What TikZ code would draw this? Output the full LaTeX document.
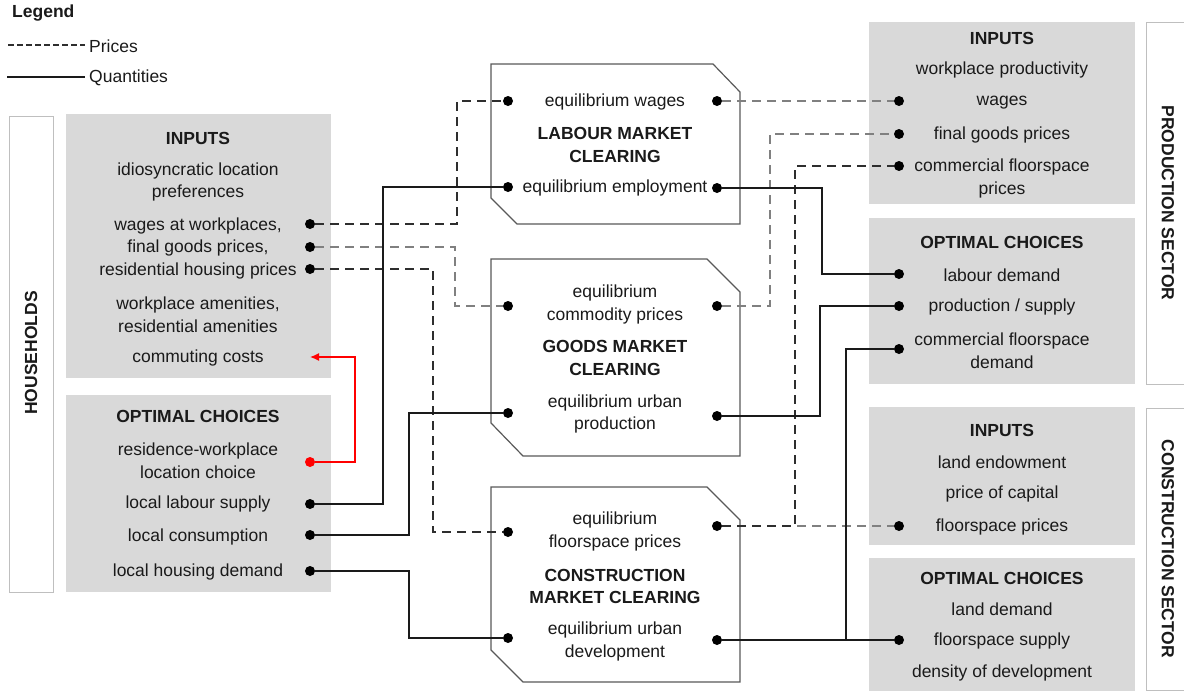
\documentclass[tikz,border=0pt]{standalone}
\usepackage{fontspec}
\setmainfont{Liberation Sans}
\usetikzlibrary{arrows.meta}

\definecolor{panelgray}{HTML}{D9D9D9}
\definecolor{framegray}{HTML}{BFBFBF}
\definecolor{inkdark}{HTML}{1A1A1A}
\definecolor{pricegray}{HTML}{808080}
\definecolor{pricedarkgray}{HTML}{2E2E2E}

\tikzset{
    panel/.style={fill=panelgray, draw=none},
    sidebox/.style={draw=framegray, line width=1pt, fill=white},
    market/.style={draw=black!65, line width=1.2pt, fill=white},
    txt/.style={inner sep=0pt, align=center, text=inkdark},
    head/.style={txt, font=\fontsize{17.5}{22.5}\selectfont\bfseries},
    dot/.style={circle, fill=black, inner sep=0pt, minimum size=10pt},
    reddot/.style={dot, fill=red},
    qty/.style={draw=inkdark, line width=1.6pt},
    price/.style={draw=pricegray, line width=1.6pt, dash pattern=on 9pt off 6pt},
    pricedark/.style={draw=pricedarkgray, line width=1.6pt, dash pattern=on 9pt off 6pt},
    commute/.style={draw=red, line width=1.3pt, -{Latex[length=9pt,width=8pt]}},
}

\begin{document}
\begin{tikzpicture}[x=1pt, y=-1pt, font=\fontsize{17.5}{22.5}\selectfont]
    \useasboundingbox (0,0) rectangle (1184,691);

    % legend
    \node[head, anchor=west] (legend) at (12,13) {Legend};
    \coordinate (pA) at (8,45);
    \coordinate (pB) at (85,45);
    \coordinate (qA) at (7,77);
    \coordinate (qB) at (85,77);
    \draw[pricedark, line width=1.2pt, dash pattern=on 6pt off 3pt] (pA) -- (pB);
    \draw[qty, line width=1.2pt] (qA) -- (qB);
    \node[txt, anchor=west] (legprice) at (89,46) {Prices};
    \node[txt, anchor=west] (legqty) at (89,78) {Quantities};

    % frames and panels
    \draw[sidebox] (9,116) rectangle (53,592);
    \draw[sidebox] (1146,22) rectangle (1195,384);
    \draw[sidebox] (1146,408) rectangle (1195,690);
    \node[head, rotate=90] (households) at (31,353) {HOUSEHOLDS};
    \node[head, rotate=-90] (prodsector) at (1168,203) {PRODUCTION SECTOR};
    \node[head, rotate=-90] (conssector) at (1168,549) {CONSTRUCTION SECTOR};

    \fill[panel] (66,114) rectangle (331,378);
    \fill[panel] (66,395) rectangle (331,592);
    \fill[panel] (869,22) rectangle (1135,204);
    \fill[panel] (869,218) rectangle (1135,384);
    \fill[panel] (869,407) rectangle (1135,545);
    \fill[panel] (869,558) rectangle (1135,695);

    % market clearing blocks
    \draw[market] (491,64) -- (713,64) -- (740,92) -- (740,224) -- (517,224) -- (491,198) -- cycle;
    \draw[market] (491,259) -- (707,259) -- (740,292) -- (740,456) -- (523,456) -- (491,423) -- cycle;
    \draw[market] (491,487) -- (707,487) -- (740,520) -- (740,682) -- (523,682) -- (491,650) -- cycle;

    % households
    \node[head] (hIn) at (198,138) {INPUTS};
    \node[txt] (hPref) at (198,182) {idiosyncratic location\\preferences};
    \node[txt] (hPrices) at (198,248) {wages at workplaces,\\final goods prices,\\residential housing prices};
    \node[txt] (hAmen) at (198,314.5) {workplace amenities,\\residential amenities};
    \node[txt] (hComm) at (198,358) {commuting costs};
    \node[head] (hOpt) at (198,416) {OPTIMAL CHOICES};
    \node[txt] (hLoc) at (198,460.5) {residence-workplace\\location choice};
    \node[txt] (hLab) at (198,504) {local labour supply};
    \node[txt] (hCon) at (198,537) {local consumption};
    \node[txt] (hHou) at (198,572) {local housing demand};

    % markets
    \node[txt] (lWages) at (615,102) {equilibrium wages};
    \node[head] (lTitle) at (615,145) {LABOUR MARKET\\CLEARING};
    \node[txt] (lEmp) at (615,188) {equilibrium employment};
    \node[txt] (gPrices) at (615,304.5) {equilibrium\\commodity prices};
    \node[head] (gTitle) at (615,358) {GOODS MARKET\\CLEARING};
    \node[txt] (gProd) at (615,414) {equilibrium urban\\production};
    \node[txt] (cPrices) at (615,531.5) {equilibrium\\floorspace prices};
    \node[head] (cTitle) at (615,586.5) {CONSTRUCTION\\MARKET CLEARING};
    \node[txt] (cDev) at (615,641.5) {equilibrium urban\\development};

    % production sector
    \node[head] (pIn) at (1002,38) {INPUTS};
    \node[txt] (pProd) at (1002,70) {workplace productivity};
    \node[txt] (pWag) at (1002,103) {wages};
    \node[txt] (pGds) at (1002,135) {final goods prices};
    \node[txt] (pFlr) at (1002,178.5) {commercial floorspace\\prices};
    \node[head] (pOpt) at (1002,242) {OPTIMAL CHOICES};
    \node[txt] (pLab) at (1002,275) {labour demand};
    \node[txt] (pSup) at (1002,307) {production / supply};
    \node[txt] (pDem) at (1002,350.5) {commercial floorspace\\demand};

    % construction sector
    \node[head] (kIn) at (1002,430) {INPUTS};
    \node[txt] (kLand) at (1002,462) {land endowment};
    \node[txt] (kCap) at (1002,494) {price of capital};
    \node[txt] (kFlr) at (1002,527) {floorspace prices};
    \node[head] (kOpt) at (1002,578) {OPTIMAL CHOICES};
    \node[txt] (kLandDem) at (1002,609) {land demand};
    \node[txt] (kSup) at (1002,641) {floorspace supply};
    \node[txt] (kDens) at (1002,673) {density of development};

    % connection points
    \node[dot] (hWage) at (310,224) {};
    \node[dot] (hGoods) at (310,247) {};
    \node[dot] (hHousing) at (310,269) {};
    \coordinate (hCommute) at (310,357);
    \node[reddot] (hLocation) at (310,462) {};
    \node[dot] (hLabour) at (310,504) {};
    \node[dot] (hCons) at (310,535) {};
    \node[dot] (hDemand) at (310,571) {};

    \node[dot] (lWageL) at (508,101) {};
    \node[dot] (lWageR) at (717,101) {};
    \node[dot] (lEmpL) at (508,187) {};
    \node[dot] (lEmpR) at (717,188) {};
    \node[dot] (gPriceL) at (508,306) {};
    \node[dot] (gPriceR) at (717,306) {};
    \node[dot] (gProdL) at (508,413) {};
    \node[dot] (gProdR) at (717,416) {};
    \node[dot] (cPriceL) at (508,532) {};
    \node[dot] (cPriceR) at (717,526) {};
    \node[dot] (cDevL) at (508,638) {};
    \node[dot] (cDevR) at (717,640) {};

    \node[dot] (pWage) at (899,101) {};
    \node[dot] (pGoods) at (899,134) {};
    \node[dot] (pFloor) at (899,166) {};
    \node[dot] (pLabour) at (899,274) {};
    \node[dot] (pSupply) at (899,306) {};
    \node[dot] (pFloorDem) at (899,349) {};
    \node[dot] (kFloor) at (899,526) {};
    \node[dot] (kSupply) at (899,640) {};

    % prices
    \draw[pricedark] (hWage) -- ++(147,0) |- (lWageL);
    \draw[price] (hGoods) -- ++(145,0) |- (gPriceL);
    \draw[pricedark] (hHousing) -- ++(123,0) |- (cPriceL);
    \draw[price] (lWageR) -- (pWage);
    \draw[price] (gPriceR) -- ++(53,0) |- (pGoods);
    \draw[price] (cPriceR) -- (kFloor);
    \draw[pricedark] (cPriceR) -- ++(78,0) |- (pFloor);

    % quantities
    \draw[qty] (hLabour) -- ++(73,0) |- (lEmpL);
    \draw[qty] (hCons) -- ++(99,0) |- (gProdL);
    \draw[qty] (hDemand) -- ++(99,0) |- (cDevL);
    \draw[qty] (lEmpR) -- ++(105,0) |- (pLabour);
    \draw[qty] (gProdR) -- ++(103,0) |- (pSupply);
    \draw[qty] (cDevR) -- ++(129,0) |- (pFloorDem);
    \draw[qty] (cDevR) -- (kSupply);

    % location choice feeds back into commuting
    \draw[commute] (hLocation) -- ++(45,0) |- (hCommute);
\end{tikzpicture}
\end{document}
